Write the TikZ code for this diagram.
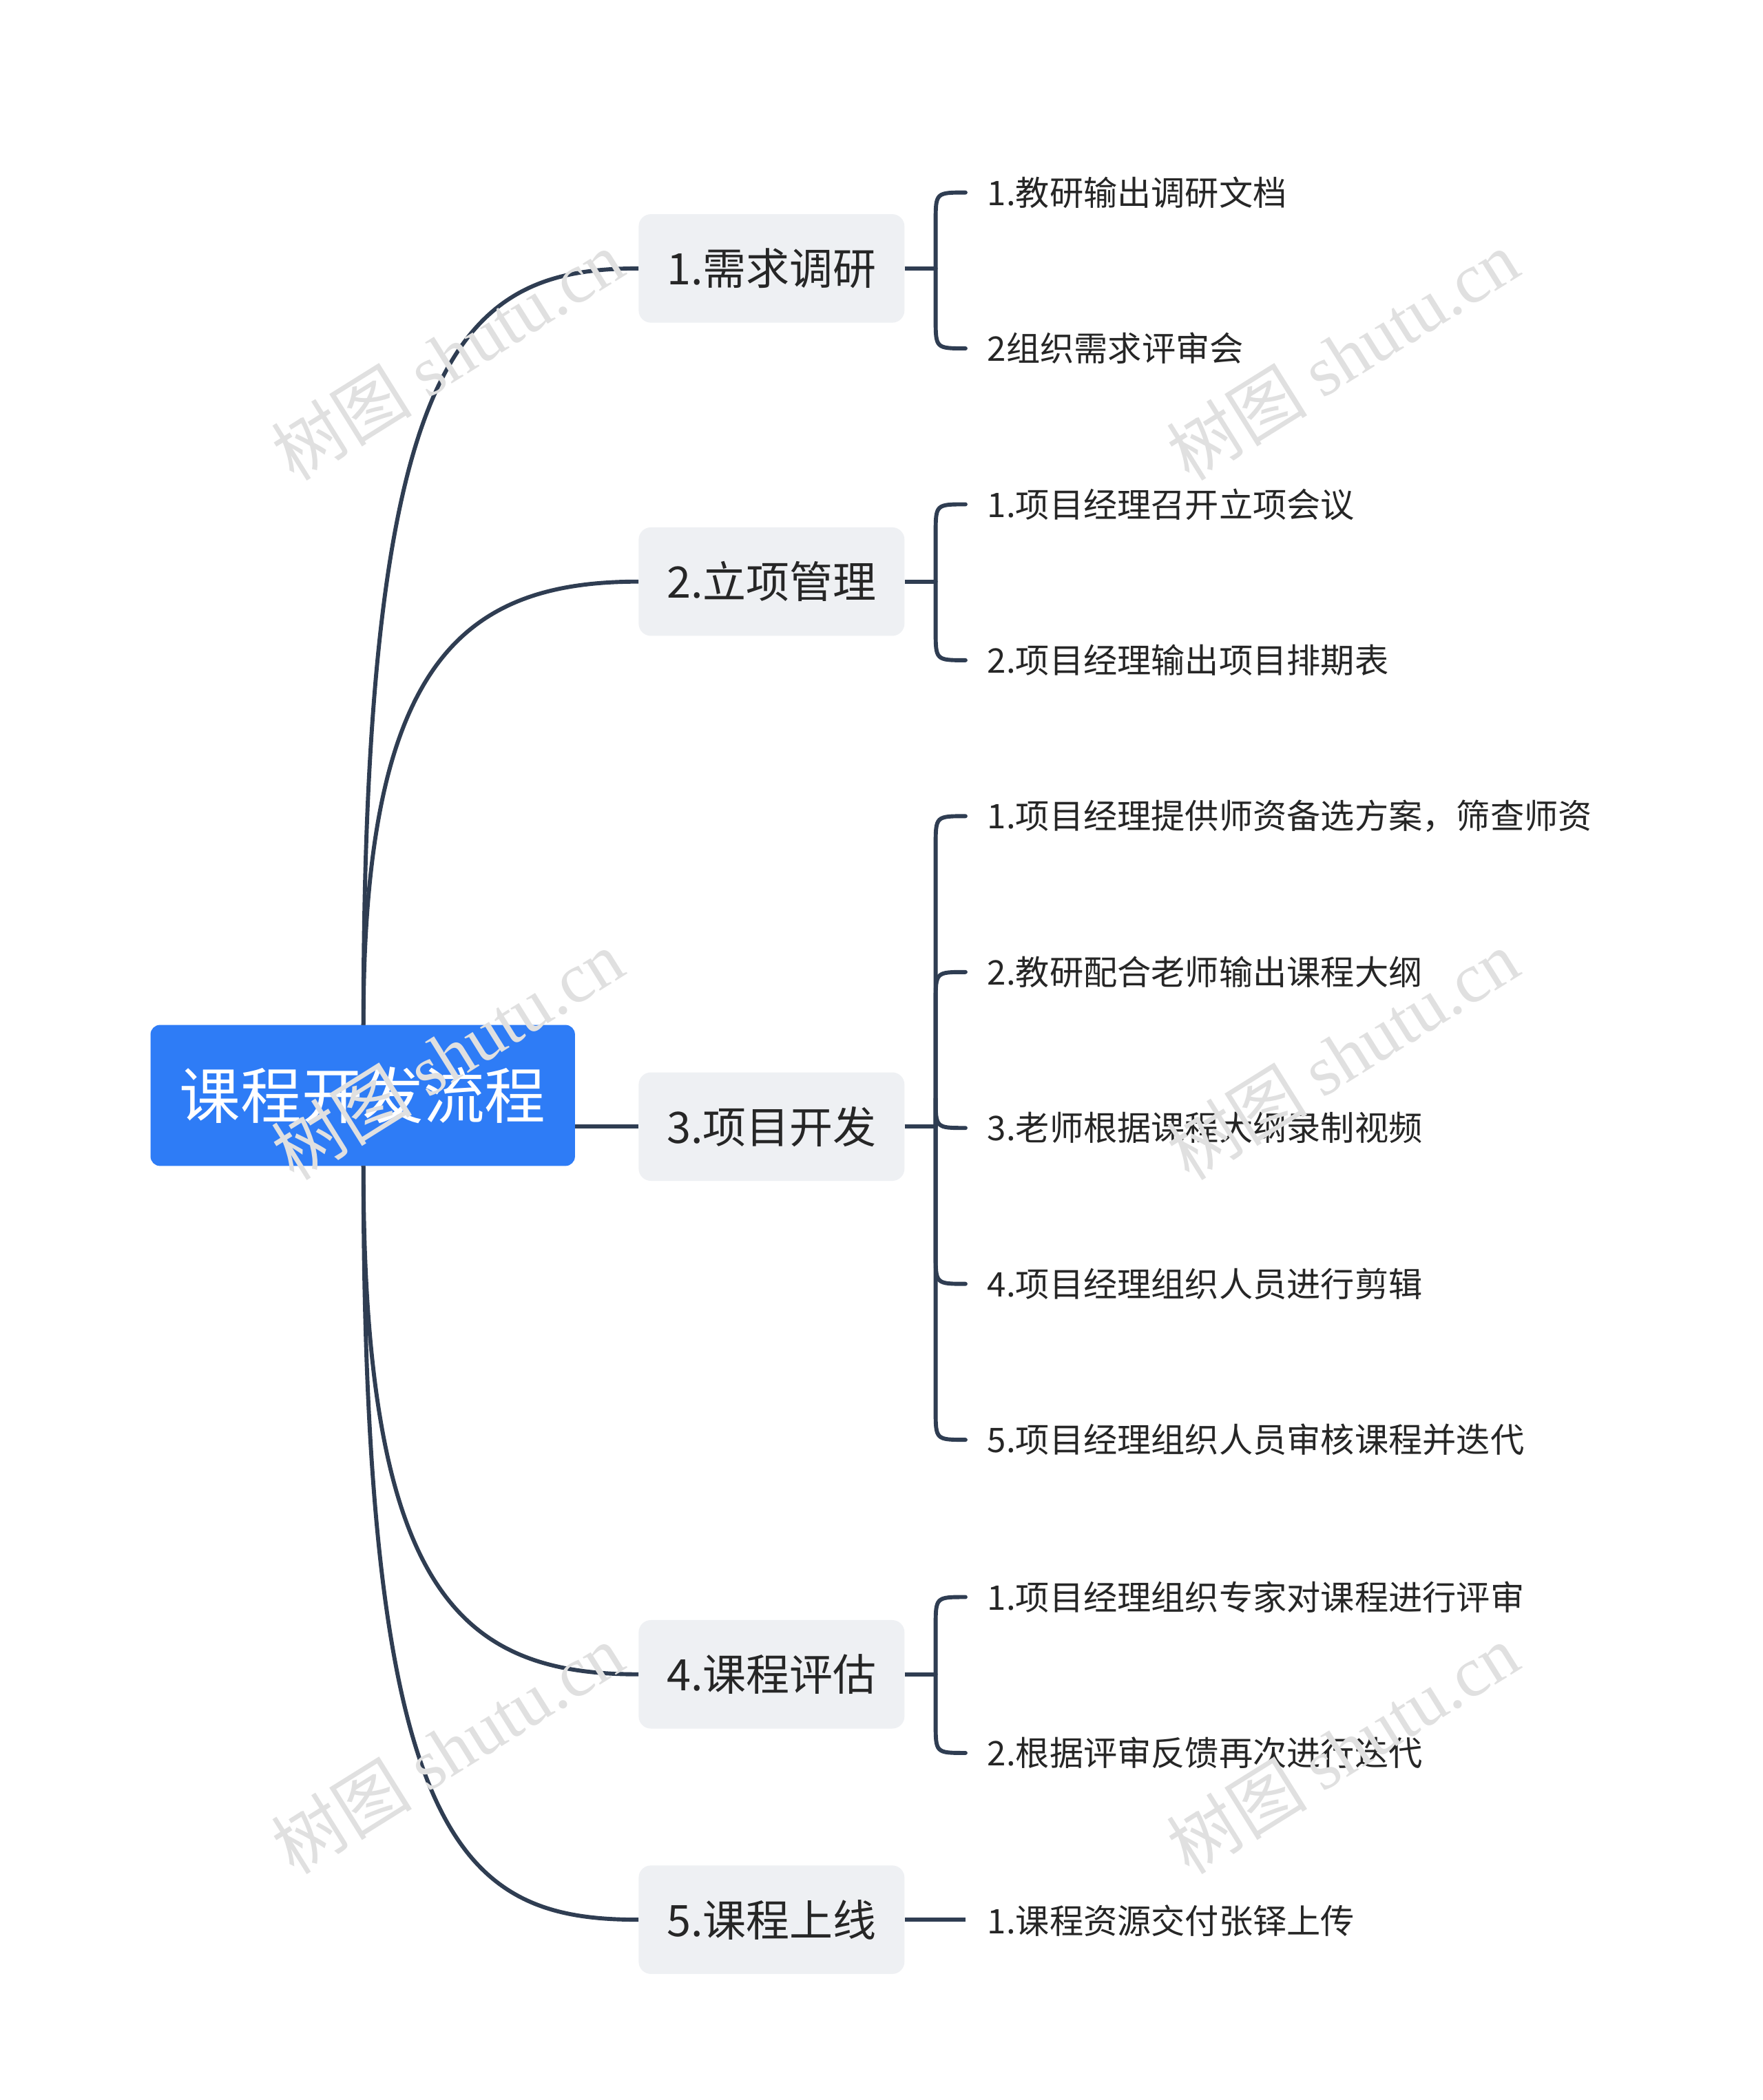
\documentclass[tikz,border=0pt]{standalone}
\usepackage{fontspec}
\setmainfont{Noto Sans CJK SC}
\newfontfamily\wmfont{Liberation Serif}
\newfontfamily\cjkfont{Noto Sans CJK SC}
\definecolor{lineC}{HTML}{2F3D52}
\definecolor{rootC}{HTML}{2E7CF6}
\definecolor{boxC}{HTML}{EEF0F3}
\begin{document}
\begin{tikzpicture}[x=1pt,y=-1pt,
  conn/.style={draw=lineC,line width=3pt},
  rootbox/.style={fill=rootC,rounded corners=7pt,minimum width=313pt,minimum height=104pt,text=white,font=\fontsize{45}{50}\selectfont,inner sep=0pt},
  branchbox/.style={fill=boxC,rounded corners=9pt,minimum width=196pt,minimum height=80pt,text=black!85,font=\fontsize{32}{36}\selectfont,inner sep=0pt},
  leaftext/.style={anchor=west,text=black!85,font=\fontsize{25}{28}\selectfont,inner sep=0pt},
  wm/.style={text=black!12,rotate=32,font=\fontsize{52}{56}\selectfont}]
\useasboundingbox (0,0) rectangle (1300,1549);
\fill[white] (0,0) rectangle (1300,1549);
\node[rootbox] (root) at (267.5,808) {课程开发流程};
\coordinate (rt) at (268,756);
\coordinate (rb) at (268,860);
\node[branchbox] (b1) at (569,198) {1.需求调研};
\node[branchbox] (b2) at (569,429) {2.立项管理};
\node[branchbox] (b3) at (569,831) {3.项目开发};
\node[branchbox] (b4) at (569,1235) {4.课程评估};
\node[branchbox] (b5) at (569,1416) {5.课程上线};
\draw[conn] (rt) .. controls (268,260) and (340,198) .. (b1.west);
\draw[conn] (rt) .. controls (268,490) and (340,429) .. (b2.west);
\draw[conn] (root.east |- b3.west) -- (b3.west);
\draw[conn] (rb) .. controls (268,1175) and (340,1235) .. (b4.west);
\draw[conn] (rb) .. controls (268,1360) and (340,1416) .. (b5.west);
% leaves
\foreach \b/\y/\lst in {b1/198/{142/1.教研输出调研文档,257/2组织需求评审会},
                        b2/429/{372/1.项目经理召开立项会议,487/2.项目经理输出项目排期表},
                        b3/831/{602/1.项目经理提供师资备选方案，筛查师资,717/2.教研配合老师输出课程大纲,832/3.老师根据课程大纲录制视频,947/4.项目经理组织人员进行剪辑,1062/5.项目经理组织人员审核课程并迭代},
                        b4/1235/{1178/1.项目经理组织专家对课程进行评审,1293/2.根据评审反馈再次进行迭代}}{
  \coordinate (\b j) at (690,\y);
  \draw[conn] (\b.east) -- (\b j);
  \foreach \ly/\t in \lst {
    \node[leaftext] (\b l\ly) at (728,\ly) {\t};
    \pgfmathsetmacro{\dd}{\ly<\y ? 1 : -1}
    \draw[conn,line cap=round] (\b j) -- (690,\ly+\dd*22) .. controls (690,\ly) .. (712,\ly);
  }
}
\node[leaftext] (b5l) at (728,1417) {1.课程资源交付张铎上传};
\draw[conn] (b5.east) -- (712,1416);
% watermarks
\foreach \x/\y in {330/262,990/262,330/778,990/778,330/1290,990/1290}
  \node[wm] at (\x,\y) {{\cjkfont 树图} {\wmfont shutu.cn}};
\end{tikzpicture}
\end{document}
